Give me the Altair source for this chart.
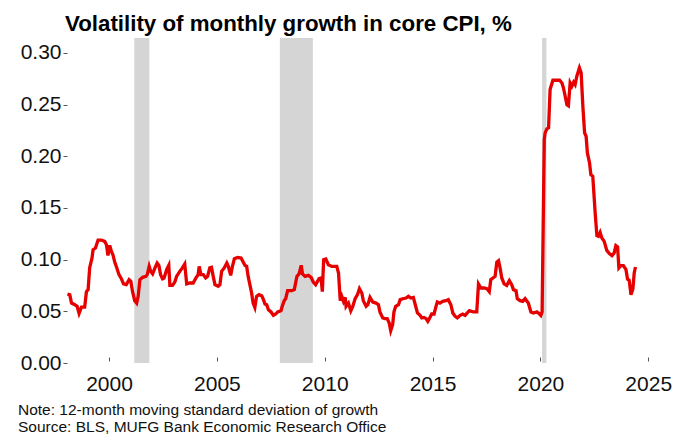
import altair as alt
import pandas as pd

# Recession periods (decimal years)
rec_start = [2001.17, 2007.92, 2020.08]
rec_end = [2001.87, 2009.45, 2020.28]

# 12-month moving std of monthly core CPI growth, %
years = [
    1998.07, 1998.18, 1998.26, 1998.41, 1998.52, 1998.61, 1998.72, 1998.87, 1998.95,
    1999.03, 1999.10, 1999.21, 1999.26, 1999.37, 1999.49, 1999.64, 1999.80, 1999.88, 1999.95,
    2000.03, 2000.11, 2000.18, 2000.26, 2000.36, 2000.46, 2000.57, 2000.67, 2000.80, 2000.93,
    2001.01, 2001.09, 2001.19, 2001.28, 2001.35, 2001.43, 2001.56, 2001.71, 2001.77, 2001.86, 2001.93,
    2002.02, 2002.13, 2002.23, 2002.31, 2002.39, 2002.48, 2002.55, 2002.67, 2002.77, 2002.82, 2002.94,
    2003.05, 2003.13, 2003.28, 2003.40, 2003.51, 2003.60, 2003.75, 2003.90,
    2004.03, 2004.13, 2004.18, 2004.26, 2004.37, 2004.48, 2004.57, 2004.67, 2004.75, 2004.83, 2004.91,
    2005.06, 2005.14, 2005.22, 2005.34, 2005.46, 2005.53, 2005.64, 2005.71, 2005.81, 2005.96,
    2006.12, 2006.22, 2006.30, 2006.38, 2006.45, 2006.53, 2006.61, 2006.68, 2006.76, 2006.84, 2006.95,
    2007.08, 2007.16, 2007.23, 2007.31, 2007.39, 2007.51, 2007.62, 2007.73, 2007.82, 2007.97,
    2008.03, 2008.12, 2008.19, 2008.28, 2008.47, 2008.59, 2008.71, 2008.81, 2008.91, 2008.97,
    2009.09, 2009.24, 2009.37, 2009.47, 2009.58, 2009.74, 2009.83, 2009.89, 2009.95,
    2010.05, 2010.17, 2010.33, 2010.49, 2010.56, 2010.64, 2010.72, 2010.79, 2010.87, 2010.95, 2010.99,
    2011.10, 2011.21, 2011.30, 2011.41, 2011.52, 2011.61, 2011.72, 2011.79, 2011.92,
    2012.00, 2012.10, 2012.23, 2012.38, 2012.49, 2012.56, 2012.69, 2012.79, 2012.90, 2012.99,
    2013.06, 2013.15, 2013.21, 2013.29, 2013.42, 2013.50, 2013.62, 2013.77, 2013.88, 2013.99,
    2014.11, 2014.19, 2014.30, 2014.42, 2014.50, 2014.60, 2014.70, 2014.78, 2014.85, 2014.96,
    2015.07, 2015.16, 2015.22, 2015.34, 2015.47, 2015.62, 2015.73, 2015.85, 2015.94,
    2016.05, 2016.15, 2016.28, 2016.40, 2016.51, 2016.61, 2016.71, 2016.89,
    2017.05, 2017.13, 2017.24, 2017.39, 2017.52, 2017.63, 2017.70, 2017.80, 2017.90, 2017.98,
    2018.06, 2018.13, 2018.21, 2018.32, 2018.44, 2018.56, 2018.67, 2018.75, 2018.87, 2018.93,
    2019.06, 2019.18, 2019.29, 2019.44, 2019.56, 2019.68, 2019.84, 2019.96,
    2020.02, 2020.08, 2020.18, 2020.22, 2020.30, 2020.38, 2020.45, 2020.58, 2020.73, 2020.89,
    2021.00, 2021.07, 2021.15, 2021.23, 2021.30, 2021.38, 2021.46, 2021.54, 2021.61, 2021.69,
    2021.81, 2021.89, 2021.97, 2022.05, 2022.12, 2022.18, 2022.28, 2022.34, 2022.43, 2022.54,
    2022.62, 2022.69, 2022.77, 2022.85, 2022.96, 2023.08, 2023.20, 2023.32, 2023.42, 2023.50,
    2023.58, 2023.64, 2023.73, 2023.85, 2023.97, 2024.04, 2024.12, 2024.20, 2024.29, 2024.35, 2024.41,
]
values = [
    0.0668, 0.0660, 0.0580, 0.0564, 0.0548, 0.0480, 0.0540, 0.0540, 0.0690,
    0.0710, 0.0920, 0.1016, 0.1097, 0.1113, 0.1190, 0.1190, 0.1177, 0.1145, 0.1040,
    0.1138, 0.1080, 0.1048, 0.0980, 0.0920, 0.0855, 0.0816, 0.0765, 0.0758, 0.0806,
    0.0790, 0.0690, 0.0603, 0.0580, 0.0645, 0.0806, 0.0829, 0.0838, 0.0855, 0.0935, 0.0887,
    0.0862, 0.0920, 0.0968, 0.0945, 0.0855, 0.0816, 0.0823, 0.0903, 0.0945, 0.0751, 0.0751,
    0.0784, 0.0838, 0.0887, 0.0920, 0.0958, 0.0765, 0.0774, 0.0774,
    0.0823, 0.0855, 0.0935, 0.0855, 0.0855, 0.0823, 0.0838, 0.0920, 0.0925, 0.0838, 0.0758,
    0.0742, 0.0758, 0.0887, 0.0920, 0.0968, 0.0935, 0.0848, 0.0925, 0.1010, 0.1022,
    0.1016, 0.0977, 0.0945, 0.0935, 0.0838, 0.0758, 0.0677, 0.0580, 0.0538, 0.0645, 0.0661,
    0.0651, 0.0613, 0.0571, 0.0564, 0.0516, 0.0494, 0.0461, 0.0474, 0.0494, 0.0506,
    0.0548, 0.0603, 0.0622, 0.0700, 0.0700, 0.0710, 0.0838, 0.0862, 0.0945, 0.0862,
    0.0838, 0.0848, 0.0829, 0.0784, 0.0758, 0.0816, 0.0823, 0.0690, 0.1000,
    0.1006, 0.0951, 0.0935, 0.0935, 0.0935, 0.0871, 0.0603, 0.0645, 0.0596, 0.0635, 0.0548,
    0.0580, 0.0506, 0.0548, 0.0622, 0.0661, 0.0719, 0.0677, 0.0603, 0.0548,
    0.0564, 0.0635, 0.0590, 0.0580, 0.0564, 0.0494, 0.0436, 0.0429, 0.0429, 0.0387,
    0.0313, 0.0371, 0.0494, 0.0548, 0.0564, 0.0613, 0.0622, 0.0629, 0.0645, 0.0629,
    0.0635, 0.0571, 0.0484, 0.0461, 0.0436, 0.0441, 0.0429, 0.0403, 0.0429, 0.0474,
    0.0474, 0.0548, 0.0590, 0.0580, 0.0596, 0.0603, 0.0613, 0.0564, 0.0484,
    0.0451, 0.0436, 0.0461, 0.0474, 0.0461, 0.0484, 0.0506, 0.0494,
    0.0494, 0.0765, 0.0726, 0.0726, 0.0719, 0.0690, 0.0806, 0.0823, 0.0838, 0.0977,
    0.0990, 0.0920, 0.0823, 0.0765, 0.0751, 0.0797, 0.0758, 0.0710, 0.0700, 0.0622,
    0.0603, 0.0596, 0.0622, 0.0580, 0.0494, 0.0484, 0.0494, 0.0474,
    0.0461, 0.0494, 0.2162, 0.2227, 0.2265, 0.2275, 0.2646, 0.2736, 0.2736, 0.2736,
    0.2710, 0.2662, 0.2581, 0.2500, 0.2490, 0.2710, 0.2678, 0.2717, 0.2694, 0.2775,
    0.2856, 0.2807, 0.2484, 0.2227, 0.2194, 0.2033, 0.1936, 0.1823, 0.1806, 0.1452,
    0.1232, 0.1226, 0.1264, 0.1210, 0.1177, 0.1090, 0.1058, 0.1039, 0.1065, 0.1136,
    0.1123, 0.0920, 0.0942, 0.0942, 0.0903, 0.0813, 0.0800, 0.0661, 0.0716, 0.0871, 0.0929,
]

x_ticks = [2000, 2005, 2010, 2015, 2020, 2025]
y_ticks = [0.0, 0.05, 0.10, 0.15, 0.20, 0.25, 0.30]
notes = ["Note: 12-month moving standard deviation of growth",
         "Source: BLS, MUFG Bank Economic Research Office"]
note_rows = [0, 1]

FONT = "Liberation Sans, Arial, sans-serif"
W, H = 592, 325

line_df = pd.DataFrame({"year": years, "vol": values})
rec_df = pd.DataFrame({"start": rec_start, "end": rec_end})
note_df = pd.DataFrame({"text": notes, "row": note_rows})

xscale = alt.Scale(domain=[1998.05, 2025.5], nice=False, zero=False)
yscale = alt.Scale(domain=[0, 0.3145], nice=False)

rects = alt.Chart(rec_df).mark_rect(color="#D5D5D5").encode(
    x=alt.X("start:Q", scale=xscale,
            axis=alt.Axis(values=x_ticks, format="d", title=None, grid=False, domain=False,
                          tickSize=4, tickColor="#555555", labelFontSize=21, labelFont=FONT,
                          labelColor="#111111", labelPadding=12, offset=-6)),
    x2="end:Q",
)

line = alt.Chart(line_df).mark_line(color="#E60000", strokeWidth=3.3).encode(
    x=alt.X("year:Q", scale=xscale),
    y=alt.Y("vol:Q", scale=yscale,
            axis=alt.Axis(values=y_ticks, format=".2f", title=None, grid=False, domain=False,
                          tickSize=4, tickColor="#555555", labelFontSize=21, labelFont=FONT,
                          labelColor="#111111", labelPadding=2)),
)

note_text = alt.Chart(note_df).mark_text(
    align="left", baseline="middle", fontSize=15.5, font=FONT, color="#111111"
).encode(
    text="text:N",
    x=alt.value(-49),
    y=alt.Y("row:Q", axis=None, scale=alt.Scale(domain=[0, 1], range=[372, 389])),
)

chart = alt.layer(rects, line, note_text).resolve_scale(y="independent").properties(
    width=W, height=H,
    autosize=alt.AutoSizeParams(type="none"),
    padding={"left": 59, "top": 30, "right": 13, "bottom": 72},
    title=alt.TitleParams(
        "Volatility of monthly growth in core CPI, %",
        anchor="start", frame="group", fontSize=22.3, fontWeight="bold", font=FONT,
        color="#000000", offset=3, dx=-2,
    ),
).configure_view(stroke=None)

chart.save("out.html", embed_options={"renderer": "svg", "actions": False})
